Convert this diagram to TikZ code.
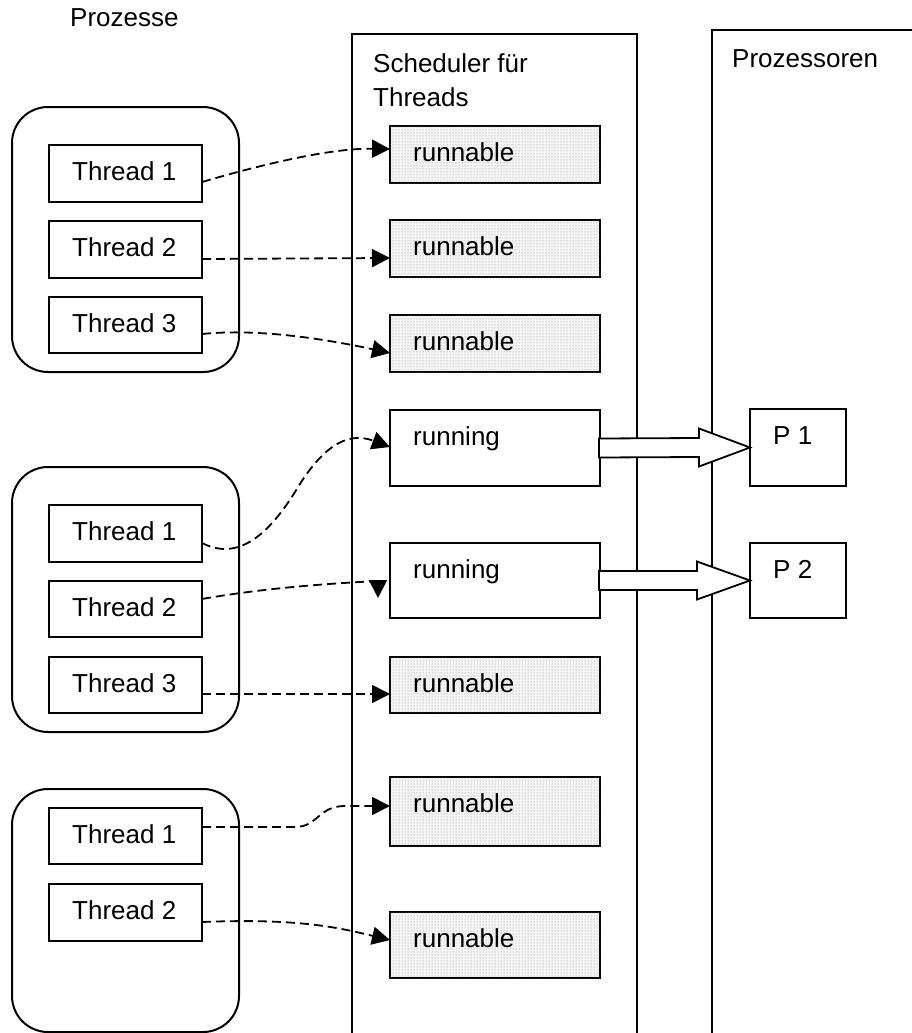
\documentclass[tikz,border=0pt]{standalone}
\usepackage{fontspec}
\setmainfont{Liberation Sans}
\usetikzlibrary{arrows.meta,patterns,calc}
\begin{document}
\begin{tikzpicture}[x=1pt,y=-1pt,
  every node/.style={font=\fontsize{26}{33}\selectfont},
  txt/.style={anchor=base west, inner sep=0pt},
  % large containers (scheduler, processors)
  frame/.style={draw, line width=1.7pt, anchor=north west, inner sep=0pt, outer sep=0pt},
  % rounded process outline
  procbox/.style={draw, line width=2pt, rounded corners=36pt, anchor=north west,
    inner sep=0pt, outer sep=0pt, minimum width=227},
  % plain rectangle with its caption set at the upper left
  tbox/.style={draw, line width=2pt, anchor=north west, inner sep=0pt, outer sep=0pt,
    label={[txt, xshift=23pt, yshift=-35pt]north west:#1}},
  thread/.style={tbox=#1, minimum width=153},
  state/.style={tbox=#1, minimum width=210},
  waiting/.style={state=#1, fill=black!4, postaction={pattern=dots, pattern color=black!45}},
  cpu/.style={tbox=#1, minimum width=96},
  conn/.style={draw, line width=1.8pt, dash pattern=on 9pt off 5pt,
    -{Triangle[length=18pt,width=18pt]}},
  hollow/.style={draw, line width=1.8pt, fill=white, line join=miter}
]
\useasboundingbox (0,0) rectangle (912,1033);
\clip (0,0) rectangle (912,1033);

% column headings and containers
\node[txt] (hproc) at (70,27) {Prozesse};
\node[frame, minimum width=285, minimum height=1030,
  label={[txt, xshift=21pt, yshift=-39pt]north west:Scheduler für},
  label={[txt, xshift=21pt, yshift=-72pt]north west:Threads}] (sched) at (352,34) {};
\node[frame, minimum width=230, minimum height=1030,
  label={[txt, xshift=20pt, yshift=-37pt]north west:Prozessoren}] (cpus) at (712,30) {};

% processes with their threads
\node[procbox, minimum height=265] (pa) at (12,107) {};
\node[thread=Thread 1, minimum height=57] (ta1) at (49,145) {};
\node[thread=Thread 2, minimum height=57] (ta2) at (49,221) {};
\node[thread=Thread 3, minimum height=56] (ta3) at (49,297) {};

\node[procbox, minimum height=265] (pb) at (12,467) {};
\node[thread=Thread 1, minimum height=57] (tb1) at (49,505) {};
\node[thread=Thread 2, minimum height=56] (tb2) at (49,581) {};
\node[thread=Thread 3, minimum height=56] (tb3) at (49,657) {};

\node[procbox, minimum height=243] (pc) at (12,789) {};
\node[thread=Thread 1, minimum height=56] (tc1) at (49,808) {};
\node[thread=Thread 2, minimum height=57] (tc2) at (49,884) {};

% scheduler states
\node[waiting=runnable, minimum height=57] (r1) at (390,126) {};
\node[waiting=runnable, minimum height=57] (r2) at (390,220) {};
\node[waiting=runnable, minimum height=57] (r3) at (390,315) {};
\node[state=running, minimum height=76] (run1) at (390,410) {};
\node[state=running, minimum height=75] (run2) at (390,543) {};
\node[waiting=runnable, minimum height=56] (r4) at (390,657) {};
\node[waiting=runnable, minimum height=69] (r5) at (390,777) {};
\node[waiting=runnable, minimum height=66] (r6) at (390,912) {};

% processors
\node[cpu=P 1, minimum height=77] (p1) at (750,409) {};
\node[cpu=P 2, minimum height=75] (p2) at (750,543) {};

% threads mapped to scheduler states
\draw[conn] ($(ta1.east)+(0,8.5)$) .. controls (260,165) and (330,148) .. ($(r1.west)+(0,-5.5)$);
\draw[conn] ($(ta2.east)+(0,9.5)$) -- ($(r2.west)+(0,9.5)$);
\draw[conn] ($(ta3.east)+(0,9)$) .. controls (260,328) and (330,340) .. ($(r3.west)+(0,9.5)$);

\draw[conn] ($(tb1.east)+(0,9.5)$) .. controls (235,560) and (265,540) .. (295,492)
  .. controls (320,450) and (345,430) .. ($(run1.west)+(0,-1)$);
\draw[conn] ($(tb2.east)+(0,-10)$) .. controls (270,587) and (340,583) .. (378,581)
  -- ($(run2.west)+(-12,17.5)$);
\draw[conn] ($(tb3.east)+(0,9)$) -- ($(r4.west)+(0,9)$);

\draw[conn] ($(tc1.east)+(0,-9)$) -- (295,827) .. controls (318,827) and (318,806) .. (345,806)
  -- ($(r5.west)+(0,-5.5)$);
\draw[conn] ($(tc2.east)+(0,9.5)$) .. controls (300,918) and (340,928) .. ($(r6.west)+(0,-5)$);

% running threads dispatched to processors
\draw[hollow] ($(run1.east)+(-1,-9.5)$) -- ($(p1.west)+(-51,-9.5)$) -- ($(p1.west)+(-51,-19)$)
  -- (p1.west) -- ($(p1.west)+(-51,19)$) -- ($(p1.west)+(-51,9.5)$)
  -- ($(run1.east)+(-1,9.5)$) -- cycle;
\draw[hollow] ($(run2.east)+(-1,-9.5)$) -- ($(p2.west)+(-53,-9.5)$) -- ($(p2.west)+(-53,-19)$)
  -- (p2.west) -- ($(p2.west)+(-53,19)$) -- ($(p2.west)+(-53,9.5)$)
  -- ($(run2.east)+(-1,9.5)$) -- cycle;
\end{tikzpicture}
\end{document}
